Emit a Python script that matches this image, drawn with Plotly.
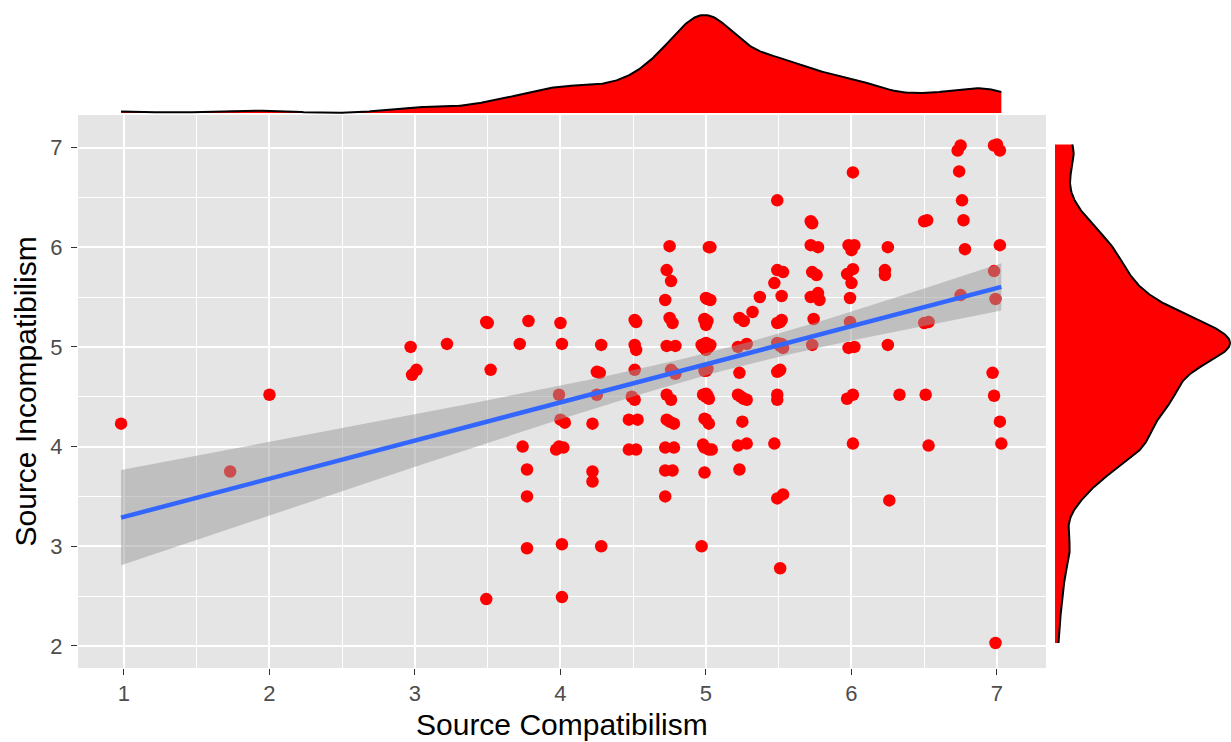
import numpy as np
import plotly.graph_objects as go

# Survey scale means: Source Compatibilism (x) vs Source Incompatibilism (y)
compat = [
    0.98, 1.73, 2.00, 2.97, 2.98, 3.01, 3.22, 3.49, 3.50, 3.52, 3.49, 3.72, 3.78, 3.74, 3.77, 3.77, 3.77,
    4.00, 4.01, 3.99, 4.00, 4.03, 3.99, 4.02, 3.97, 4.01, 4.01,
    4.28, 4.25, 4.27, 4.25, 4.22, 4.22, 4.22, 4.28,
    4.51, 4.52, 4.51, 4.52, 4.51, 4.49, 4.51, 4.47, 4.53, 4.47, 4.52,
    4.75, 4.73, 4.76, 4.72, 4.75, 4.77, 4.73, 4.79, 4.76, 4.79, 4.73, 4.76, 4.73, 4.78, 4.75, 4.72, 4.78, 4.72, 4.77, 4.72,
    5.03, 5.00, 5.03, 4.99, 5.00, 4.97, 5.03, 5.00, 5.00, 5.00, 4.98, 5.02, 5.00, 4.99, 5.02, 4.98, 5.02, 5.04, 4.99, 4.97,
    5.23, 5.26, 5.32, 5.37, 5.22, 5.28, 5.23, 5.22, 5.26, 5.28, 5.24, 5.25, 5.22, 5.28, 5.23,
    5.49, 5.49, 5.53, 5.47, 5.52, 5.49, 5.52, 5.49, 5.53, 5.49, 5.51, 5.49, 5.49, 5.47, 5.49, 5.53, 5.51,
    5.72, 5.73, 5.72, 5.77, 5.73, 5.76, 5.72, 5.77, 5.78, 5.74, 5.73,
    6.01, 5.98, 6.02, 6.00, 5.97, 6.01, 6.00, 5.99, 5.99, 5.98, 6.02, 5.97, 6.01, 6.01,
    6.25, 6.23, 6.23, 6.25, 6.33, 6.26,
    6.50, 6.52, 6.50, 6.53, 6.51, 6.53,
    6.75, 6.73, 6.74, 6.76, 6.77, 6.78, 6.75,
    6.98, 7.02, 7.00, 7.02, 6.98, 6.99, 6.97, 6.98, 7.02, 7.03, 6.99,
]
incompat = [
    4.23, 3.75, 4.52, 5.00, 4.72, 4.77, 5.03, 5.25, 5.24, 4.77, 2.47, 5.03, 5.26, 4.00, 3.77, 3.50, 2.98,
    5.24, 5.03, 4.52, 4.27, 4.24, 4.00, 3.99, 3.97, 3.02, 2.49,
    5.02, 4.75, 4.74, 4.52, 4.23, 3.75, 3.65, 3.00,
    5.27, 5.25, 5.02, 4.97, 4.77, 4.50, 4.47, 4.27, 4.27, 3.97, 3.97,
    6.01, 5.77, 5.66, 5.47, 5.29, 5.24, 5.01, 5.01, 4.77, 4.73, 4.52, 4.47, 4.27, 4.23, 4.25, 3.99, 3.99, 3.76, 3.76, 3.50,
    6.00, 5.49, 5.47, 5.28, 5.22, 5.02, 5.02, 4.97, 5.04, 4.77, 4.52, 4.48, 4.53, 4.28, 4.23, 4.02, 3.97, 3.97, 3.74, 3.00,
    5.29, 5.26, 5.35, 5.50, 5.00, 5.03, 4.74, 4.52, 4.48, 4.47, 4.50, 4.25, 4.01, 4.03, 3.77,
    6.47, 5.77, 5.75, 5.64, 5.51, 5.24, 5.27, 5.04, 4.99, 4.75, 4.77, 4.52, 4.47, 4.03, 3.48, 3.52, 2.78,
    6.26, 6.24, 6.02, 6.00, 5.75, 5.72, 5.50, 5.54, 5.47, 5.28, 5.02,
    6.75, 6.02, 6.02, 5.97, 5.73, 5.78, 5.64, 5.49, 5.25, 4.99, 5.00, 4.48, 4.52, 4.03,
    6.00, 5.77, 5.72, 5.02, 4.52, 3.46,
    6.26, 6.27, 5.24, 5.25, 4.52, 4.01,
    7.02, 6.97, 6.76, 6.47, 6.27, 5.98, 5.52,
    7.02, 6.97, 7.03, 6.02, 5.76, 5.48, 4.74, 4.51, 4.25, 4.03, 2.03,
]
# responses stacked on top of one another in the crowded centre
stacked_compat = [
    5.00, 5.01, 4.99, 5.01, 4.99, 5.00, 5.02, 4.98, 5.00, 5.01, 4.99, 5.02, 4.98, 5.01, 5.00,
    5.00, 5.01, 4.99, 5.00, 5.01, 4.99, 5.00, 5.01, 5.01, 5.00, 4.99, 5.02,
    5.51, 5.52, 5.51, 5.50,
]
stacked_incompat = [
    5.00, 5.01, 5.01, 4.99, 4.99, 5.02, 5.00, 5.00, 4.98, 5.03, 5.03, 5.02, 5.02, 5.00, 5.01,
    5.25, 5.26, 5.27, 4.76, 4.78, 4.76, 4.50, 4.51, 5.48, 4.27, 3.99, 6.00,
    5.01, 5.03, 5.25, 4.76,
]

x_ticks = [1, 2, 3, 4, 5, 6, 7]
y_ticks = [2, 3, 4, 5, 6, 7]
x_title = "Source Compatibilism"
y_title = "Source Incompatibilism"

x = np.array(compat + stacked_compat)
y = np.array(incompat + stacked_incompat)
n = len(x)

# ---- linear fit with 95% confidence band (as geom_smooth(method = "lm")) ----
slope, intercept = np.polyfit(x, y, 1)
resid = y - (intercept + slope * x)
s = np.sqrt(np.sum(resid ** 2) / (n - 2))
xbar = x.mean()
sxx = np.sum((x - xbar) ** 2)
T975 = 1.971
fit_x = np.linspace(x.min(), x.max(), 80)
fit_y = intercept + slope * fit_x
se = s * np.sqrt(1.0 / n + (fit_x - xbar) ** 2 / sxx)
lo, hi = fit_y - T975 * se, fit_y + T975 * se


# ---- Gaussian kernel density over the data range ----
def kde(v, bw, m=512):
    g = np.linspace(v.min(), v.max(), m)
    d = np.exp(-0.5 * ((g[:, None] - v[None, :]) / bw) ** 2).sum(axis=1)
    return g, d / (len(v) * bw * np.sqrt(2 * np.pi))


BW = 0.2
gx, dx = kde(x, BW)
gy, dy = kde(y, BW)

W, H = 1231, 742
PX_L, PX_R, PX_T, PX_B = 78, 1046, 115, 668


def fx(p):
    return p / W


def fy(p):
    return 1 - p / H


x_range = [0.684, 7.337]
y_range = [1.779, 7.326]

RED = "#FF0000"
fig = go.Figure()

# scatter points
fig.add_trace(go.Scatter(
    x=x, y=y, mode="markers", xaxis="x", yaxis="y",
    marker=dict(color=RED, size=12.5, line=dict(width=0)),
    hoverinfo="skip", showlegend=False))

# confidence ribbon
fig.add_trace(go.Scatter(
    x=np.concatenate([fit_x, fit_x[::-1]]), y=np.concatenate([hi, lo[::-1]]),
    fill="toself", fillcolor="rgba(153,153,153,0.5)", line=dict(width=0),
    mode="lines", xaxis="x", yaxis="y", hoverinfo="skip", showlegend=False))

# fitted line
fig.add_trace(go.Scatter(
    x=fit_x, y=fit_y, mode="lines", line=dict(color="#3366FF", width=4.5),
    xaxis="x", yaxis="y", hoverinfo="skip", showlegend=False))

# top marginal density
fig.add_trace(go.Scatter(x=gx, y=dx, mode="none", fill="tozeroy", fillcolor=RED,
                         xaxis="x2", yaxis="y2", hoverinfo="skip", showlegend=False))
fig.add_trace(go.Scatter(x=gx, y=dx, mode="lines", line=dict(color="black", width=2),
                         xaxis="x2", yaxis="y2", hoverinfo="skip", showlegend=False))

# right marginal density
fig.add_trace(go.Scatter(x=dy, y=gy, mode="none", fill="tozerox", fillcolor=RED,
                         xaxis="x3", yaxis="y3", hoverinfo="skip", showlegend=False))
fig.add_trace(go.Scatter(x=dy, y=gy, mode="lines", line=dict(color="black", width=2),
                         xaxis="x3", yaxis="y3", hoverinfo="skip", showlegend=False))

mx, my = dx.max(), dy.max()
FONT = "Liberation Sans, Arial, sans-serif"
tick_font = dict(family=FONT, size=22, color="#4D4D4D")

axis_common = dict(
    showgrid=True, gridcolor="white", gridwidth=1.8, zeroline=False, showline=False,
    ticks="outside", ticklen=6, tickwidth=1.4, tickcolor="#333333",
    tickfont=tick_font, fixedrange=True,
)

fig.update_layout(
    width=W, height=H,
    margin=dict(l=0, r=0, t=0, b=0),
    paper_bgcolor="white", plot_bgcolor="rgba(0,0,0,0)",
    showlegend=False,
    xaxis=dict(domain=[fx(PX_L), fx(PX_R)], range=x_range, tickvals=x_ticks,
               minor=dict(dtick=0.5, tick0=0.5, showgrid=True, gridcolor="white", gridwidth=0.9),
               anchor="y", ticklabelstandoff=0, **axis_common),
    yaxis=dict(domain=[fy(PX_B), fy(PX_T)], range=y_range, tickvals=y_ticks,
               minor=dict(dtick=0.5, tick0=0.5, showgrid=True, gridcolor="white", gridwidth=0.9),
               anchor="x", ticklabelstandoff=4, **axis_common),
    xaxis2=dict(domain=[fx(PX_L), fx(PX_R)], range=x_range, visible=False, anchor="y2"),
    yaxis2=dict(domain=[fy(118), fy(8)], range=[-5 / 98 * mx, mx * (1 + 7 / 98)],
                visible=False, anchor="x2"),
    xaxis3=dict(domain=[fx(1050), 1.0], range=[-5 / 175 * my, my * (1 + 1 / 175)],
                visible=False, anchor="y3"),
    yaxis3=dict(domain=[fy(PX_B), fy(PX_T)], range=y_range, visible=False, anchor="x3"),
    shapes=[dict(type="rect", xref="x domain", yref="y domain", x0=0, x1=1, y0=0, y1=1,
                 fillcolor="#E5E5E5", line=dict(width=0), layer="below")],
    annotations=[
        dict(text=x_title, xref="paper", yref="paper", x=fx((PX_L + PX_R) / 2), y=fy(742),
             xanchor="center", yanchor="bottom", showarrow=False, borderpad=0,
             font=dict(family=FONT, size=30, color="black")),
        dict(text=y_title, xref="paper", yref="paper", x=fx(25), y=fy((PX_T + PX_B) / 2),
             xanchor="center", yanchor="middle", showarrow=False, textangle=-90,
             font=dict(family=FONT, size=30, color="black")),
    ],
)

fig.write_html("out.html")
